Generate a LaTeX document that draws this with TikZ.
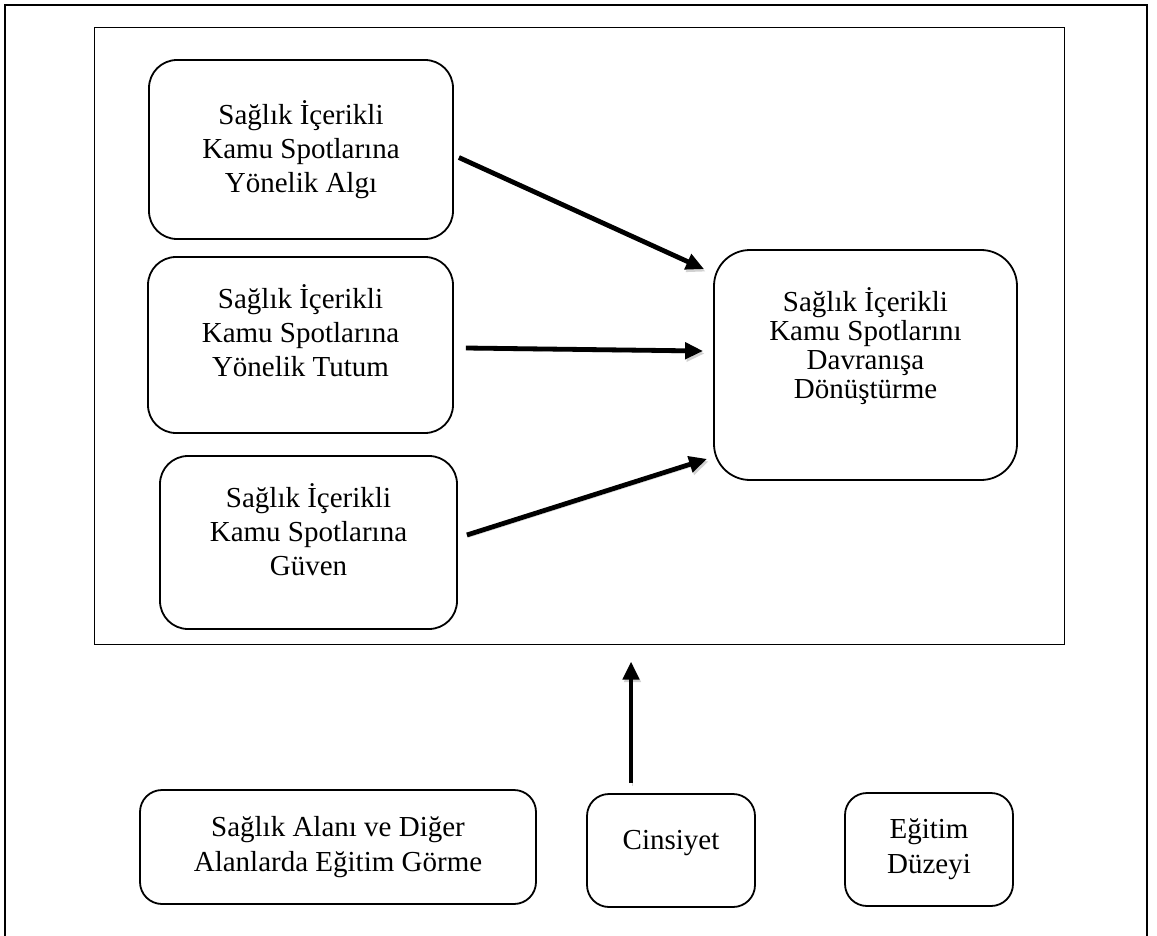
\documentclass[tikz,border=0pt]{standalone}
\usepackage{fontspec}
\usepackage{tikz}
\usetikzlibrary{arrows.meta}
\newfontfamily\boxfont{Liberation Serif}

\tikzset{
    box/.style={draw, line width=1.8pt, rounded corners=28pt, align=center, inner sep=0pt,
        font=\boxfont\fontsize{29}{34}\selectfont},
    lowbox/.style={box, rounded corners=22pt, font=\boxfont\fontsize{29}{35}\selectfont},
    conn/.style={line width=4.8pt, -{Triangle[length=18pt,width=16pt]},
        preaction={draw=black!18, transform canvas={shift={(1.5pt,-2.5pt)}}}}
}

\begin{document}
\begin{tikzpicture}[x=1pt,y=-1pt]
            \useasboundingbox (0,0) rectangle (1157,936);

            %%% FRAMES %%%
            \draw[line width=2pt] (5,940) -- (5,5) -- (1147,5) -- (1147,940);
            \node[draw, line width=1pt, inner sep=0pt, minimum width=970pt, minimum height=616pt] (model) at (579,336) {};

            %%% BOXES %%%
            \node[box, minimum width=304pt, minimum height=179pt] (algi) at (301,149.5) {Sağlık İçerikli\\Kamu Spotlarına\\Yönelik Algı};
            \node[box, minimum width=305pt, minimum height=176pt] (tutum) at (300.5,345) {Sağlık İçerikli\\Kamu Spotlarına\\Yönelik Tutum\\[-5pt]\mbox{}};
            \node[box, minimum width=297pt, minimum height=173pt] (guven) at (308.5,542.5) {Sağlık İçerikli\\Kamu Spotlarına\\Güven\\[-8pt]\mbox{}};
            \node[box, rounded corners=36pt, font=\boxfont\fontsize{29}{29}\selectfont, minimum width=303pt, minimum height=230pt] (donusum) at (865.5,365) {Sağlık İçerikli\\Kamu Spotlarını\\Davranışa\\Dönüştürme\\[15pt]\mbox{}};

            \node[lowbox, minimum width=396pt, minimum height=114pt] (alan) at (338,847) {Sağlık Alanı ve Diğer\\Alanlarda Eğitim Görme};
            \node[lowbox, text depth=21pt, minimum width=168pt, minimum height=113pt] (cinsiyet) at (671,850.5) {Cinsiyet};
            \node[lowbox, minimum width=168pt, minimum height=113pt] (egitim) at (929,849.5) {Eğitim\\Düzeyi};

            %%% ARROWS %%%
            \draw[conn] ([shift={(5,8)}]algi.east) -- ([shift={(-9,20)}]donusum.north west);
            \draw[conn] ([shift={(12,3)}]tutum.east) -- ([shift={(-10,-14)}]donusum.west);
            \draw[conn] ([shift={(9,-7.5)}]guven.east) -- ([shift={(-6,-22)}]donusum.south west);
            \draw[conn] ([shift={(-40,-10)}]cinsiyet.north) -- ([shift={(52,17)}]model.south);
\end{tikzpicture}
\end{document}
